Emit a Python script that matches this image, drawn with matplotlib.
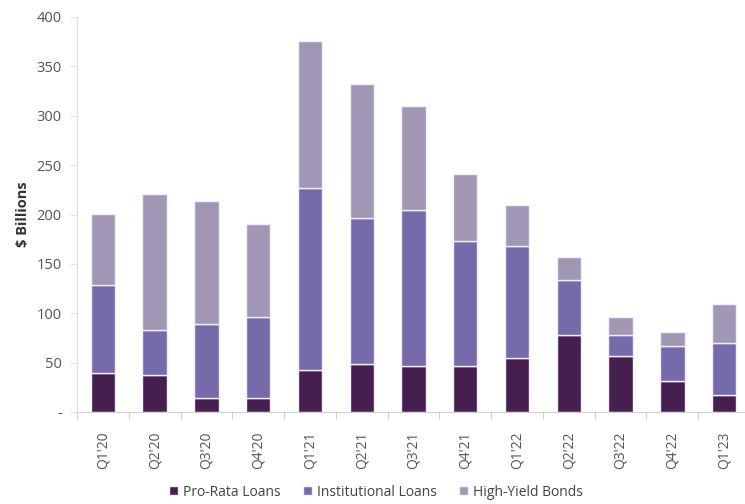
import matplotlib
matplotlib.use("Agg")
import matplotlib.pyplot as plt
import numpy as np
from matplotlib.ticker import FixedLocator, FuncFormatter

quarters = ["Q1'20", "Q2'20", "Q3'20", "Q4'20", "Q1'21", "Q2'21", "Q3'21",
            "Q4'21", "Q1'22", "Q2'22", "Q3'22", "Q4'22", "Q1'23"]
pro_rata = [40, 37, 14, 14, 43, 49, 47, 47, 55, 78, 57, 31, 17]
institutional = [89, 46, 75, 82, 184, 147, 158, 126, 113, 56, 21, 36, 53]
high_yield = [71, 138, 125, 94, 149, 136, 105, 68, 42, 23, 18, 14, 39]

series = [("Pro-Rata Loans", pro_rata, "#45204F"),
          ("Institutional Loans", institutional, "#766BAA"),
          ("High-Yield Bonds", high_yield, "#A197B5")]

plt.rcParams['font.family'] = ['Open Sans', 'DejaVu Sans']

fig = plt.figure(figsize=(7.45, 5.04), dpi=100)
ax = fig.add_axes([77/745, 1-412/504, (750-77)/745, (412-17)/504])

x = np.arange(len(quarters))
bottom = np.zeros(len(quarters))
handles = []
for name, vals, col in series:
    b = ax.bar(x, vals, bottom=bottom, width=0.47, color=col,
               edgecolor='#F3EEFA', linewidth=1.0, label=name)
    handles.append(b)
    bottom += np.array(vals)

ax.set_xlim(-0.5, len(quarters) - 0.5)
ax.set_ylim(0, 400)
ax.set_yticks(range(0, 401, 50))
ax.yaxis.set_major_formatter(FuncFormatter(lambda v, p: "-" if v == 0 else f"{int(v)}"))
ax.set_xticks(x)
ax.set_xticklabels(quarters, rotation=90)
ax.xaxis.set_minor_locator(FixedLocator(np.arange(-0.5, len(quarters), 1.0)))
ax.tick_params(axis='x', which='major', length=0, pad=14, labelsize=10, colors='#555555')
ax.tick_params(axis='x', which='minor', length=5, color='#D0D0D0', width=0.8)
ax.tick_params(axis='y', which='major', length=5, width=0.8, pad=6, labelsize=10.5,
               color='#E2E2E2', labelcolor='#555555')

for s in ['top', 'right']:
    ax.spines[s].set_visible(False)
ax.spines['left'].set_color('#DDDDDD')
ax.spines['bottom'].set_color('#D0D0D0')

ax.set_ylabel("$ Billions", fontsize=10.5, fontweight='bold', color='#333333', labelpad=5)

fig.legend(handles=handles, labels=[s[0] for s in series], loc='center',
           bbox_to_anchor=(0.505, 1-492/504), ncol=3, frameon=False, fontsize=10,
           handlelength=0.6, handleheight=0.6, handletextpad=0.4, columnspacing=1.6,
           labelcolor='#444444')

fig.savefig("out.png", dpi=100)
